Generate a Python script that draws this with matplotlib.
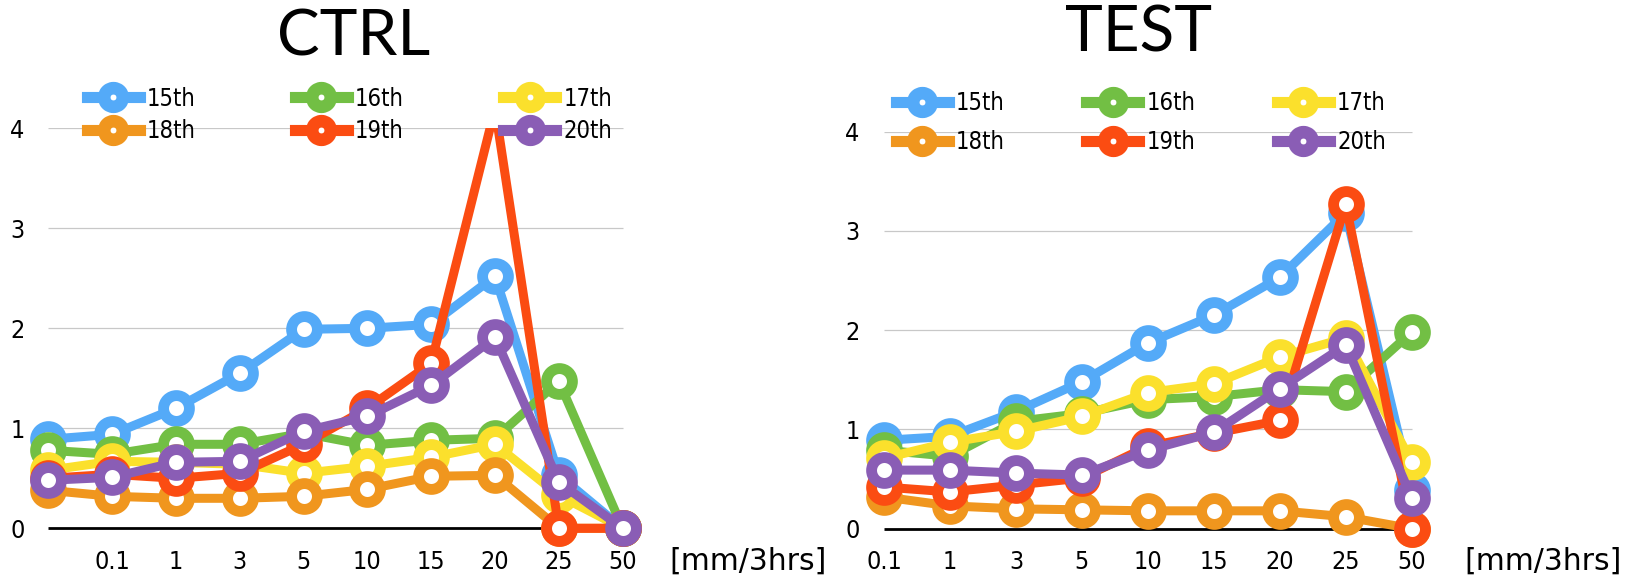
import matplotlib
matplotlib.use("Agg")
import matplotlib.pyplot as plt
from matplotlib.lines import Line2D
import numpy as np

# data
ctrl_ticks = ["", "0.1", "1", "3", "5", "10", "15", "20", "25", "50"]
test_ticks = ["0.1", "1", "3", "5", "10", "15", "20", "25", "50"]
names = ["15th", "16th", "17th", "18th", "19th", "20th"]

ctrl_15 = [0.89, 0.94, 1.20, 1.55, 1.99, 2.00, 2.04, 2.52, 0.53, 0.0]
ctrl_16 = [0.78, 0.74, 0.84, 0.84, 0.95, 0.83, 0.88, 0.90, 1.47, 0.0]
ctrl_17 = [0.58, 0.67, 0.66, 0.64, 0.55, 0.62, 0.71, 0.84, 0.33, 0.0]
ctrl_18 = [0.38, 0.32, 0.30, 0.30, 0.32, 0.39, 0.52, 0.53, 0.0, 0.0]
ctrl_19 = [0.50, 0.54, 0.50, 0.55, 0.84, 1.20, 1.65, 4.20, 0.0, 0.0]
ctrl_20 = [0.48, 0.51, 0.66, 0.67, 0.97, 1.12, 1.43, 1.91, 0.46, 0.0]

test_15 = [0.89, 0.93, 1.18, 1.48, 1.87, 2.15, 2.53, 3.18, 0.39]
test_16 = [0.79, 0.73, 1.08, 1.16, 1.30, 1.33, 1.40, 1.38, 1.98]
test_17 = [0.71, 0.87, 0.98, 1.13, 1.37, 1.46, 1.73, 1.92, 0.67]
test_18 = [0.32, 0.23, 0.20, 0.19, 0.18, 0.18, 0.18, 0.12, 0.0]
test_19 = [0.42, 0.37, 0.44, 0.51, 0.83, 0.96, 1.09, 3.27, 0.0]
test_20 = [0.59, 0.59, 0.56, 0.54, 0.79, 0.97, 1.41, 1.85, 0.31]

colors = ["#54AAF8", "#72BF44", "#FBE02C", "#F0961E", "#FB4C12", "#8A5DB5"]

W, H = 1637, 584
XM, YM = 0.35, 0.2   # room round the plot so markers at the edges are not cut
tick_font = {"family": "DejaVu Sans", "stretch": "condensed"}

fig = plt.figure(figsize=(W / 100, H / 100), dpi=100)


def px_axes(x0, x1, y0, y4, n):
    # x0/x1: pixel of first/last category, y0/y4: pixel of value 0/4
    ux = (x1 - x0) / (n - 1)
    uy = (y0 - y4) / 4
    left, right = x0 - XM * ux, x1 + XM * ux
    bottom, top = y0 + YM * uy, y4
    return fig.add_axes([left / W, 1 - bottom / H, (right - left) / W, (bottom - top) / H])


def panel(ax, ticks, series, title, tx, ty, xl_x, leg_x, leg_y, colsp, labsp):
    n = len(ticks)
    x = np.arange(n)
    for vals, c in zip(series, colors):
        ax.plot(x, vals, color=c, lw=6.5, marker="o", ms=18.6, mew=7.8,
                mfc="white", mec=c, zorder=3)
    ax.hlines([1, 2, 3, 4], 0, n - 1, color="#c8c8c8", lw=0.9, zorder=1)
    ax.hlines(0, 0, n - 1, color="black", lw=2, zorder=2)
    ax.set_xlim(-XM, n - 1 + XM)
    ax.set_ylim(-YM, 4)
    ax.set_yticks([0, 1, 2, 3, 4])
    ax.set_xticks(x)
    ax.set_xticklabels(ticks)
    for s in ax.spines.values():
        s.set_visible(False)
    ax.tick_params(axis="both", length=0, labelsize=18)
    ax.tick_params(axis="y", pad=1)
    ax.tick_params(axis="x", pad=1)
    for lab in ax.get_xticklabels() + ax.get_yticklabels():
        lab.set_fontstretch("condensed")

    fig.text(tx / W, 1 - ty / H, title, ha="center", va="center",
             fontsize=46, family=["Lato", "DejaVu Sans"])
    fig.text(xl_x / W, 1 - 561 / H, "[mm/3hrs]", ha="left", va="center",
             fontsize=21.5, family=["DejaVu Sans"])

    handles = [Line2D([], [], color=c, lw=8, marker="o", ms=13.5, mew=9,
                      mfc="white", mec=c) for c in colors]
    order = [0, 3, 1, 4, 2, 5]
    ax.legend([handles[i] for i in order], [names[i] for i in order], ncol=3,
              loc="upper left", bbox_to_anchor=(leg_x / W, 1 - leg_y / H),
              bbox_transform=fig.transFigure, frameon=False, borderpad=0,
              borderaxespad=0, handlelength=2.25, handletextpad=0.3,
              columnspacing=colsp, labelspacing=labsp,
              prop={"size": 17, **tick_font})


ax1 = px_axes(48.3, 622.7, 528.3, 128.3, len(ctrl_ticks))
panel(ax1, ctrl_ticks, [ctrl_15, ctrl_16, ctrl_17, ctrl_18, ctrl_19, ctrl_20],
      "CTRL", 354, 38, 669.6, 86.5, 86.5, 4.2, 0.35)

ax2 = px_axes(884, 1411.7, 528.7, 131.5, len(test_ticks))
panel(ax2, test_ticks, [test_15, test_16, test_17, test_18, test_19, test_20],
      "TEST", 1138.5, 34, 1464.7, 895.8, 91, 3.45, 0.65)

fig.savefig("out.png", dpi=100)
